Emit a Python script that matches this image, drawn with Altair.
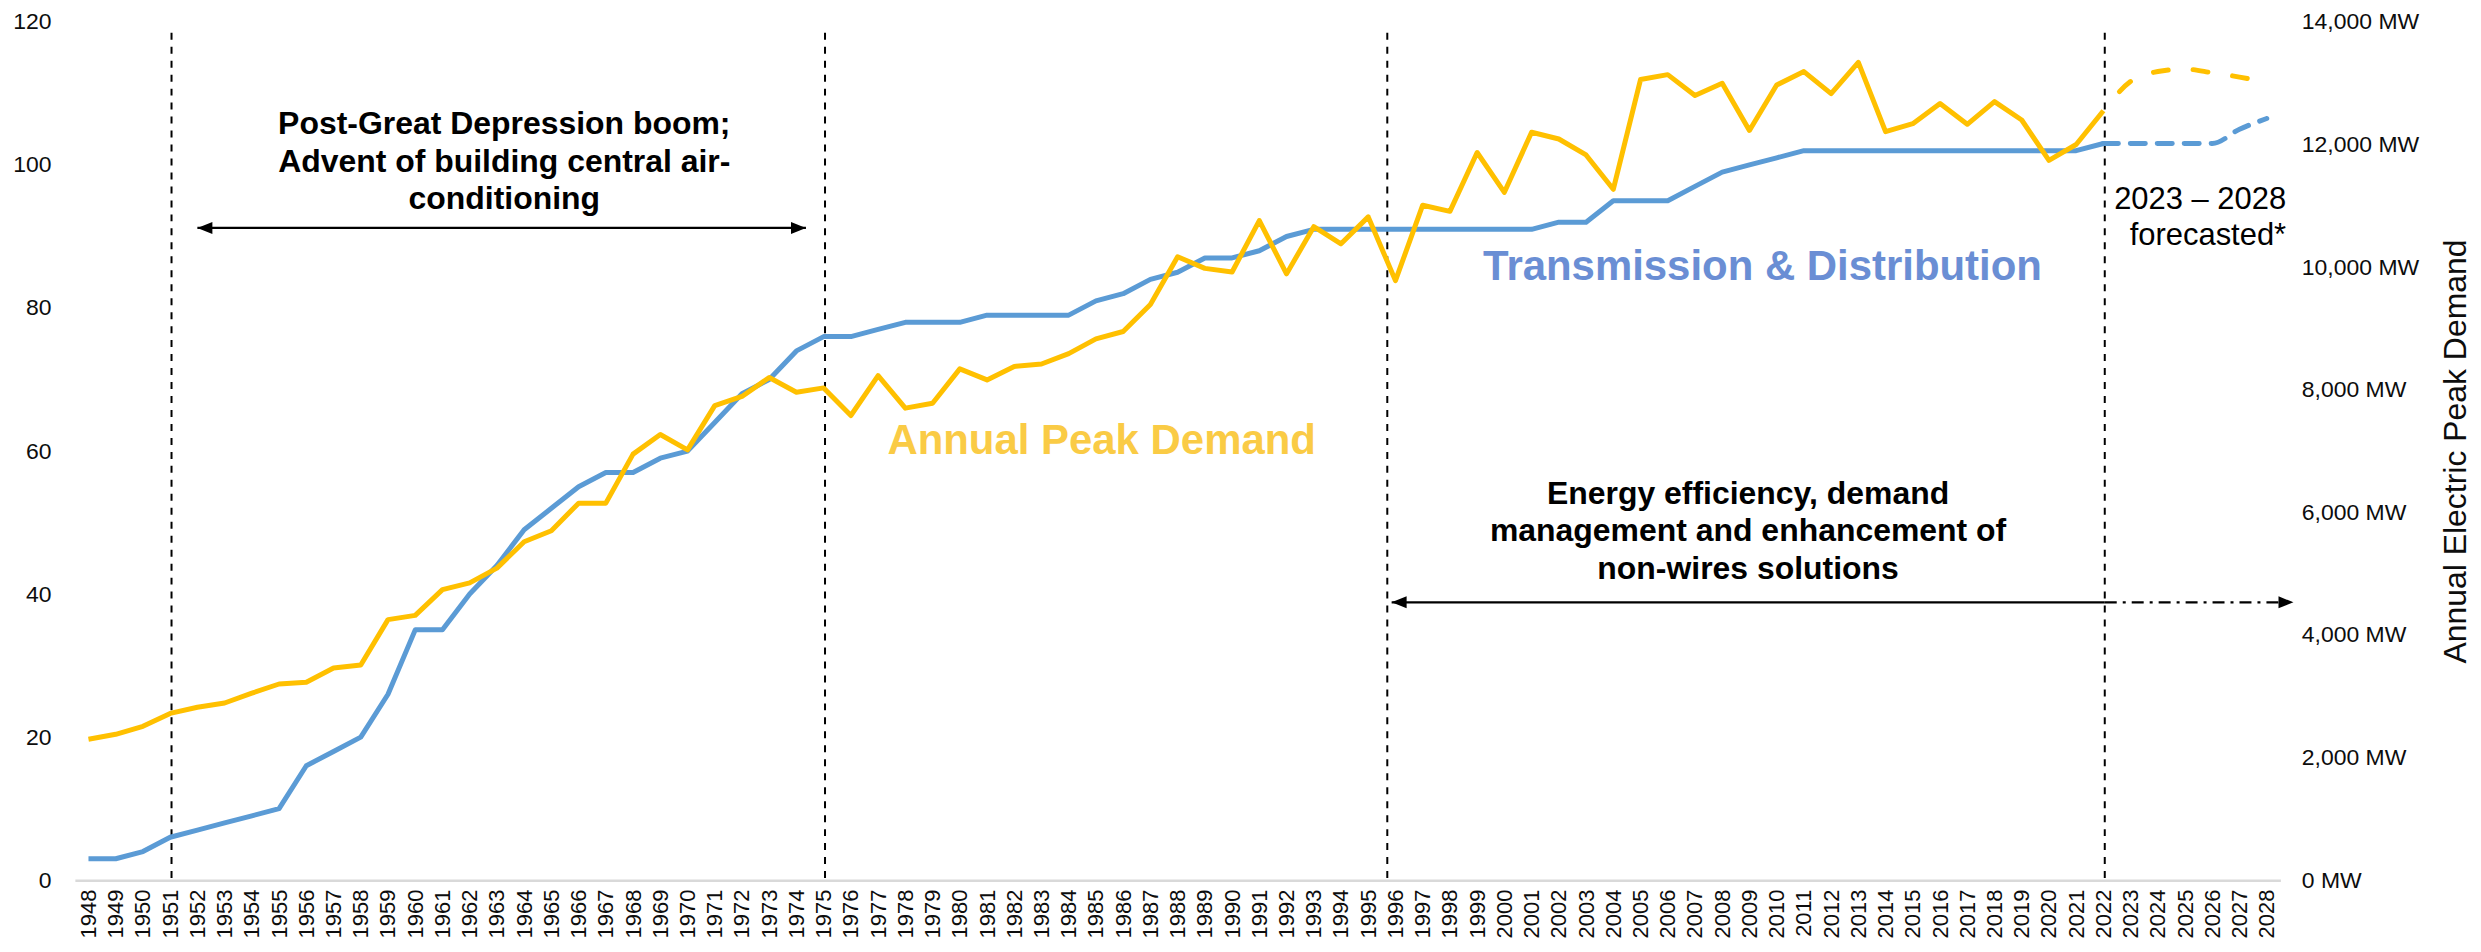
import altair as alt
import pandas as pd

# ---------------- data ----------------
years_actual = list(range(1948, 2023))
td_actual = [3, 3, 4, 6, 7, 8, 9, 10, 16, 18, 20, 26, 35, 35, 40, 44, 49, 52, 55, 57,
             57, 59, 60, 64, 68, 70, 74, 76,
             76, 77, 78, 78, 78, 79, 79, 79, 79, 81, 82, 84, 85, 87, 87, 88, 90, 91,
             91, 91, 91, 91, 91, 91, 91, 91,
             92, 92, 95, 95, 95, 97, 99, 100, 101, 102, 102, 102, 102, 102, 102, 102,
             102, 102, 102, 102, 103]
peak_actual = [2300, 2380, 2510, 2720, 2820, 2890, 3050, 3200, 3230, 3460, 3510, 4250,
               4320, 4740, 4850, 5090, 5520, 5700, 6150, 6150, 6950, 7270, 7020, 7740,
               7890, 8200, 7960, 8030,
               7580, 8230, 7700, 7780, 8340, 8160, 8380, 8420, 8590, 8830, 8950, 9390,
               10170, 9980, 9920, 10760, 9890, 10660, 10380, 10820, 9780, 11010, 10910,
               11870, 11220, 12200, 12090, 11830, 11270,
               13060, 13140, 12800, 13000, 12230, 12970, 13190, 12830, 13340, 12210,
               12340, 12670, 12330, 12700, 12400, 11740, 12000, 12550]

years_fc = [2022, 2023, 2024, 2025, 2026, 2027, 2028]
td_fc = [103, 103, 103, 103, 103, 105, 106.5]
peak_fc = [12550, 13030, 13190, 13230, 13170, 13100, 13010]

all_years = list(range(1948, 2029))
left_ticks = [0, 20, 40, 60, 80, 100, 120]
right_ticks = [0, 2000, 4000, 6000, 8000, 10000, 12000, 14000]

# era separators (year position) and their vertical extent (left-axis units)
sep_x = [1951.05, 1975.05, 1995.7, 2022.05]
sep_y1 = [0.3, 0.3, 0.3, 0.3]
sep_y2 = [118.8, 118.8, 118.8, 118.8]

# annotation texts
black_lines = ["Post-Great Depression boom;", "Advent of building central air-", "conditioning",
               "Energy efficiency, demand", "management and enhancement of", "non-wires solutions"]
black_x = [1963.27, 1963.27, 1963.27, 2008.95, 2008.95, 2008.95]
black_y = [104.3, 99.0, 93.9, 52.6, 47.4, 42.1]

fc_lines = ["2023 \u2013 2028", "forecasted*"]
fc_x = [2028.71, 2028.71]
fc_y = [93.9, 88.8]

series_labels = ["Annual Peak Demand", "Transmission & Distribution"]
series_label_x = [1985.21, 2009.48]
series_label_y = [59.55, 83.9]
series_label_color = ["#FACB45", "#6A8ED4"]

# arrows (left-axis units)
solid_arrows_x1 = [1952.0, 1995.86]
solid_arrows_x2 = [1974.35, 2022.05]
solid_arrows_y = [91.2, 38.85]
dashdot_x1 = [2022.05]
dashdot_x2 = [2028.6]
dashdot_y = [38.85]
head_right_x = [1974.35, 2028.98]
head_right_y = [91.2, 38.85]
head_left_x = [1952.0, 1995.86]
head_left_y = [91.2, 38.85]

# ---------------- styles ----------------
FONT = "Liberation Sans"
BLUE = "#5B9BD5"
GOLD = "#FFC000"
TXT = "#0d0d0d"
H = 860

xs = alt.Scale(domain=[1947.5, 2028.5], nice=False, zero=False)
yl = alt.Scale(domain=[0, 120], nice=False, zero=True)
yr = alt.Scale(domain=[0, 14000], nice=False, zero=True)

x_axis = alt.Axis(values=all_years, format="d", labelAngle=270, labelFontSize=22, labelFont=FONT,
                  labelColor=TXT, labelPadding=9, labelOverlap=False, labelFlush=False,
                  ticks=False, grid=False, domain=True, domainColor="#D9D9D9", domainWidth=2.5,
                  title=None)
yl_axis = alt.Axis(values=left_ticks, format="d", labelFontSize=23, labelFont=FONT, labelColor=TXT,
                   labelPadding=24, ticks=False, grid=False, domain=False, title=None)
yr_axis = alt.Axis(orient="right", values=right_ticks,
                   labelExpr="format(datum.value, ',') + ' MW'", labelFontSize=23, labelFont=FONT,
                   labelColor=TXT, labelPadding=21, ticks=False, grid=False, domain=False,
                   title="Annual Electric Peak Demand", titleFont=FONT, titleFontSize=32,
                   titleFontWeight="normal", titleColor=TXT, titleAngle=270, titleX=175,
                   titleY=H / 2, titleAlign="center", titleBaseline="middle")

df_td = pd.DataFrame({"year": years_actual, "v": td_actual})
df_td_fc = pd.DataFrame({"year": years_fc, "v": td_fc})
df_pk = pd.DataFrame({"year": years_actual, "v": peak_actual})
df_pk_fc = pd.DataFrame({"year": years_fc, "v": peak_fc})


def X(field):
    # every layer carries the same x axis so the shared axis merges cleanly
    return alt.X(field, type="quantitative", scale=xs, axis=x_axis, title=None)


def YL(field):
    return alt.Y(field, type="quantitative", scale=yl, axis=None)


blue_solid = alt.Chart(df_td).mark_line(color=BLUE, strokeWidth=5, strokeJoin="round").encode(
    x=X("year"),
    y=alt.Y("v:Q", scale=yl, axis=yl_axis))
blue_dash = alt.Chart(df_td_fc).mark_line(color=BLUE, strokeWidth=5, strokeCap="round",
                                          strokeDash=[15, 12], interpolate="monotone").encode(
    x=X("year"), y=YL("v"))

seps = alt.Chart(pd.DataFrame({"x": sep_x, "y1": sep_y1, "y2": sep_y2})).mark_rule(
    color="black", strokeWidth=2, strokeDash=[7, 7]).encode(x=X("x"), y=YL("y1"), y2="y2")

arrows = alt.Chart(pd.DataFrame({"x1": solid_arrows_x1, "x2": solid_arrows_x2, "y": solid_arrows_y})).mark_rule(
    color="black", strokeWidth=2.2).encode(x=X("x1"), x2="x2", y=YL("y"))
dashdot = alt.Chart(pd.DataFrame({"x1": dashdot_x1, "x2": dashdot_x2, "y": dashdot_y})).mark_rule(
    color="black", strokeWidth=2.2, strokeDash=[12, 6, 3, 6]).encode(x=X("x1"), x2="x2", y=YL("y"))

RIGHT_HEAD = "M -2 -0.8 L 0 0 L -2 0.8 Z"
LEFT_HEAD = "M 2 -0.8 L 0 0 L 2 0.8 Z"
heads_r = alt.Chart(pd.DataFrame({"x": head_right_x, "y": head_right_y})).mark_point(
    shape=RIGHT_HEAD, filled=True, size=225, color="black", opacity=1).encode(x=X("x"), y=YL("y"))
heads_l = alt.Chart(pd.DataFrame({"x": head_left_x, "y": head_left_y})).mark_point(
    shape=LEFT_HEAD, filled=True, size=225, color="black", opacity=1).encode(x=X("x"), y=YL("y"))

black_text = alt.Chart(pd.DataFrame({"x": black_x, "y": black_y, "t": black_lines})).mark_text(
    font=FONT, fontSize=32, fontWeight="bold", color="black", align="center",
    baseline="alphabetic").encode(x=X("x"), y=YL("y"), text="t:N")
fc_text = alt.Chart(pd.DataFrame({"x": fc_x, "y": fc_y, "t": fc_lines})).mark_text(
    font=FONT, fontSize=31, color="black", align="right",
    baseline="alphabetic").encode(x=X("x"), y=YL("y"), text="t:N")
lab_text = alt.Chart(pd.DataFrame({"x": series_label_x, "y": series_label_y, "t": series_labels,
                                   "c": series_label_color})).mark_text(
    font=FONT, fontSize=42, fontWeight="bold", align="center",
    baseline="alphabetic").encode(x=X("x"), y=YL("y"), text="t:N",
                                  color=alt.Color("c:N", scale=None))

gold_solid = alt.Chart(df_pk).mark_line(color=GOLD, strokeWidth=5, strokeJoin="round").encode(
    x=X("year"),
    y=alt.Y("v:Q", scale=yr, axis=yr_axis))
gold_dash = alt.Chart(df_pk_fc).mark_line(color=GOLD, strokeWidth=5, strokeCap="round",
                                          strokeDash=[15, 25], strokeDashOffset=15,
                                          interpolate="monotone").encode(
    x=X("year"), y=alt.Y("v:Q", scale=yr, axis=None))

chart = alt.layer(
    seps, blue_solid, blue_dash, gold_solid, gold_dash, arrows, dashdot, heads_r, heads_l,
    black_text, fc_text, lab_text
).resolve_scale(y="independent").properties(
    width=2210, height=H,
    padding={"left": 67, "top": 13, "right": 193, "bottom": 58},
    autosize=alt.AutoSizeParams(type="none"),
    background="white",
).configure_view(stroke=None)

chart.save("out.html", embed_options={"renderer": "svg", "actions": False})
